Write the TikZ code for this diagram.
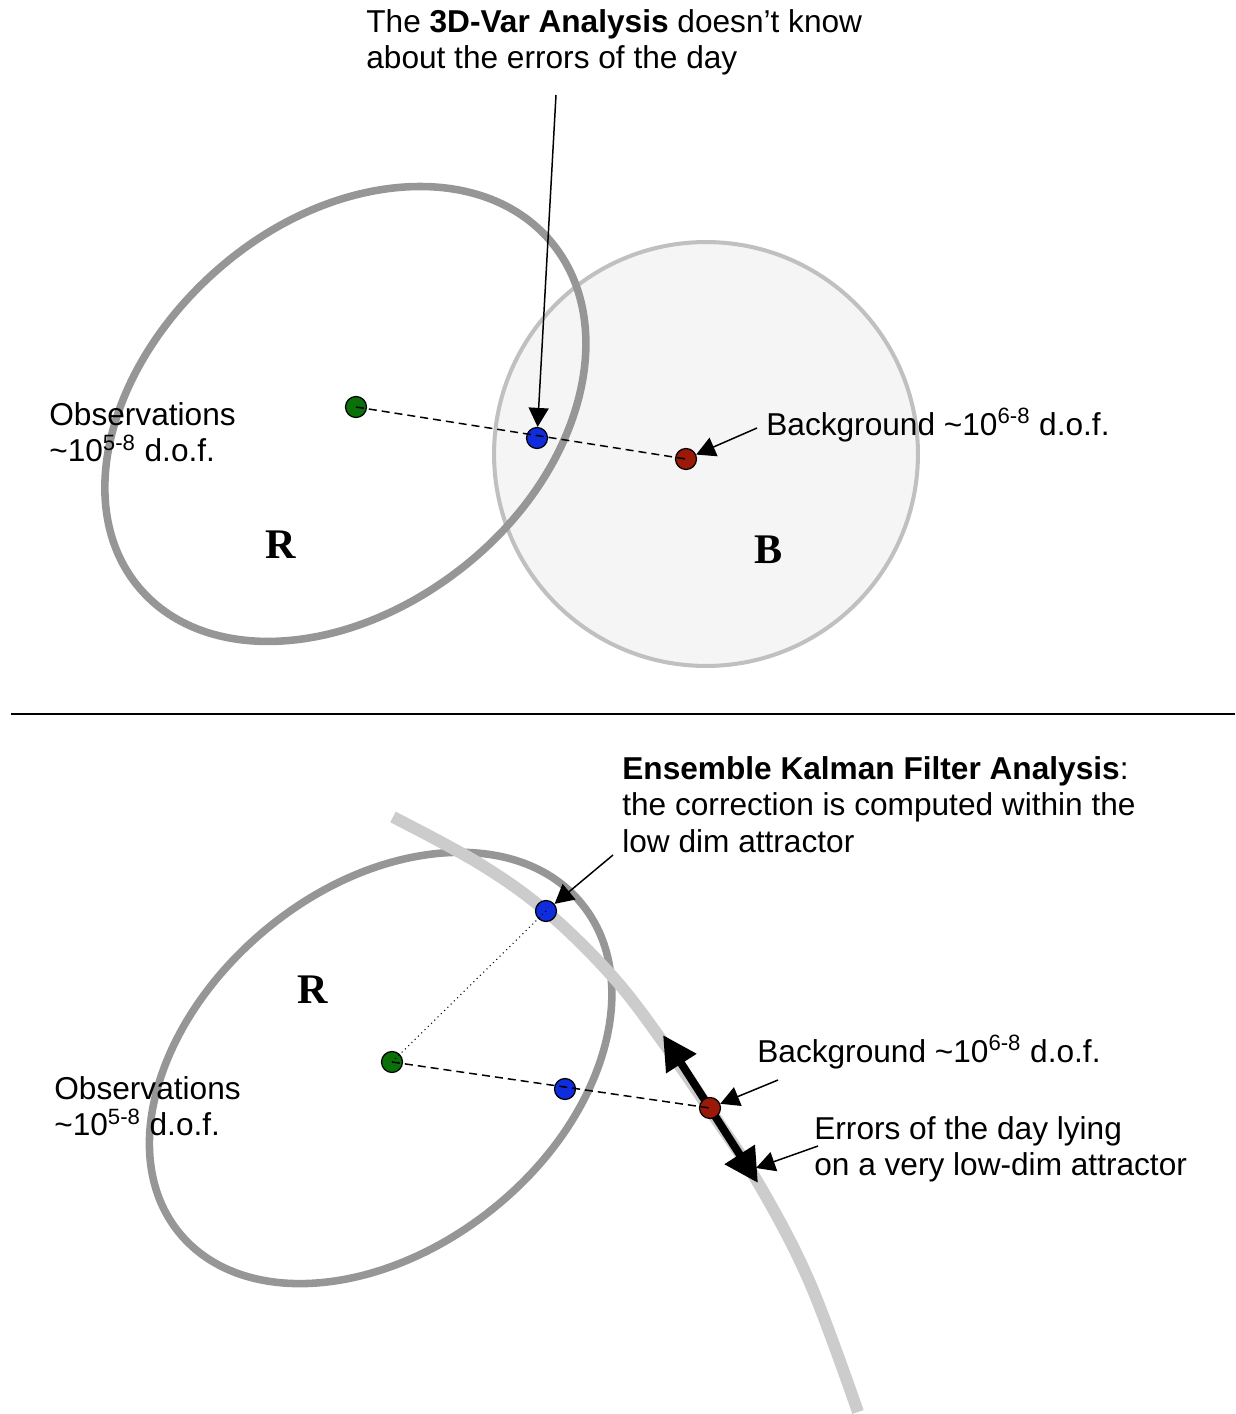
\documentclass[tikz,border=0pt]{standalone}
\usepackage{fontspec}
\setmainfont{Liberation Sans}
\newfontfamily\timesfont{Liberation Serif}
\usetikzlibrary{arrows.meta}
\definecolor{rcolor}{RGB}{150,150,150}
\definecolor{bcolor}{RGB}{192,192,192}
\definecolor{bfill}{RGB}{245,245,245}
\definecolor{attrcolor}{RGB}{204,204,204}
\definecolor{obscolor}{RGB}{10,112,10}
\definecolor{anacolor}{RGB}{15,45,220}
\definecolor{bgcolor}{RGB}{155,25,8}

\begin{document}
\begin{tikzpicture}[
    x=0.02cm, y=-0.02cm,
    covr/.style={draw=rcolor, line width=4.3pt},
    covb/.style={draw=bcolor, fill=bfill, line width=2.3pt},
    attractor/.style={draw=attrcolor, line width=6.8pt},
    dot/.style={circle, draw, line width=0.7pt, inner sep=0pt, minimum size=0.42cm},
    pointer/.style={-{Triangle[length=0.38cm, width=0.4cm]}, line width=0.85pt},
    errarrow/.style={{Triangle[length=0.68cm, width=0.68cm]}-{Triangle[length=0.68cm, width=0.68cm]}, line width=4.5pt},
    link/.style={line width=0.85pt, dash pattern=on 0.16cm off 0.1cm},
    txt/.style={anchor=north west, inner sep=0pt, align=left, font=\fontsize{18}{20.8}\selectfont},
    onetxt/.style={anchor=base west, inner sep=0pt, font=\fontsize{18}{20.8}\selectfont},
    mat/.style={font=\timesfont\bfseries\fontsize{24}{24}\selectfont}
]
    \useasboundingbox (0,0) rectangle (1235,1414);

    % 3D-Var: covariances
    \draw[covb] (706,454) circle[radius=4.24cm];
    \draw[covr, shift={(348,412)}, rotate=40] (0cm,-3.86cm)
        arc[start angle=-90, end angle=90, x radius=5.3cm, y radius=3.86cm]
        arc[start angle=90, end angle=270, x radius=5.46cm, y radius=3.86cm] -- cycle;

    % 3D-Var: points
    \node[dot, fill=obscolor] (obs) at (356,407) {};
    \node[dot, fill=anacolor] (ana) at (537,438) {};
    \node[dot, fill=bgcolor] (bg) at (686,459) {};
    \draw[link] (obs.center) -- (bg.center);

    % 3D-Var: pointers
    \coordinate (varfrom) at (556,95);
    \coordinate (bgfrom) at (757,428);
    \draw[pointer] (varfrom) -- (ana);
    \draw[pointer] (bgfrom) -- (bg);

    % 3D-Var: labels
    \node[txt] (vartxt) at (366,9) {The \textbf{3D-Var Analysis} doesn’t know\\about the errors of the day};
    \node[txt] (obstxt) at (49,402) {Observations\\\textasciitilde10\textsuperscript{5-8} d.o.f.};
    \node[onetxt] (bgtxt) at (766,435) {Background \textasciitilde10\textsuperscript{6-8} d.o.f.};
    \node[mat] (rtop) at (281,545) {R};
    \node[mat] (btop) at (769,550) {B};

    % separator
    \coordinate (sepl) at (11,714);
    \coordinate (sepr) at (1235,714);
    \draw[line width=1.1pt] (sepl) -- (sepr);

    % EnKF: covariance and attractor
    \draw[covr, shift={(382,1067)}, rotate=39.3] (0cm,-3.6cm)
        arc[start angle=-90, end angle=90, x radius=5.16cm, y radius=3.6cm]
        arc[start angle=90, end angle=270, x radius=5.24cm, y radius=3.6cm] -- cycle;
    \draw[attractor] plot[smooth, tension=0.6] coordinates {(393,817) (480,864) (547,912)
        (613,977) (663,1042) (710,1110) (760,1186) (810,1283) (858,1412)};

    % EnKF: errors of the day
    \coordinate (errtop) at (663,1035);
    \coordinate (errbot) at (758,1183);
    \draw[errarrow] (errtop) -- (errbot);

    % EnKF: points
    \node[dot, fill=obscolor] (obs2) at (392,1062) {};
    \node[dot, fill=anacolor] (enkf) at (546,911) {};
    \node[dot, fill=anacolor] (ana2) at (565,1089) {};
    \node[dot, fill=bgcolor] (bg2) at (710,1108) {};
    \draw[link] (obs2.center) -- (bg2.center);
    \draw[line width=0.6pt, dotted] (obs2.center) -- (enkf.center);

    % EnKF: pointers
    \coordinate (enkffrom) at (613,855);
    \coordinate (bg2from) at (778,1080);
    \coordinate (errfrom) at (818,1146);
    \coordinate (errtip) at (756,1168);
    \draw[pointer] (enkffrom) -- (enkf);
    \draw[pointer] (bg2from) -- (bg2);
    \draw[pointer] (errfrom) -- (errtip);

    % EnKF: labels
    \node[txt] (enkftxt) at (622,756) {\textbf{Ensemble Kalman Filter Analysis}:\\the correction is computed within the\\low dim attractor};
    \node[onetxt] (bg2txt) at (757,1062) {Background \textasciitilde10\textsuperscript{6-8} d.o.f.};
    \node[txt] (errtxt) at (814,1116) {Errors of the day lying\\on a very low-dim attractor};
    \node[txt] (obs2txt) at (54,1076) {Observations\\\textasciitilde10\textsuperscript{5-8} d.o.f.};
    \node[mat] (rbot) at (313,990) {R};
\end{tikzpicture}
\end{document}
